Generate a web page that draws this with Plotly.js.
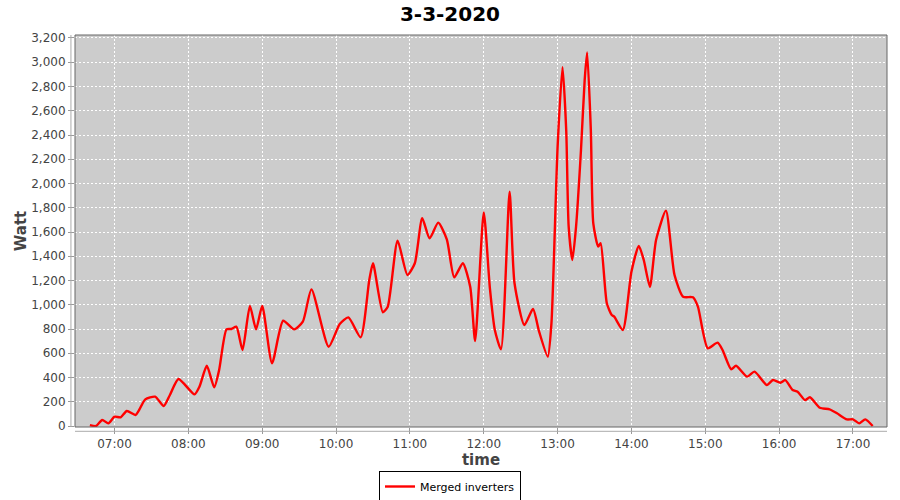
<!DOCTYPE html>
<html>
<head>
<meta charset="utf-8">
<script src="https://cdn.plot.ly/plotly-3.0.1.min.js"></script>
<style>html,body{margin:0;padding:0;background:#fff;}#chart{width:900px;height:500px;}</style>
</head>
<body>
<div id="chart"></div>
<script>
const chartTitle = "3-3-2020";
const seriesName = "Merged inverters";
const times = ["06:40","06:45","06:50","06:55","07:00","07:05","07:10","07:17","07:20","07:25","07:33","07:40","07:45","07:52","08:05","08:09","08:15","08:21","08:25","08:31","08:35","08:39","08:44","08:50","08:55","09:00","09:08","09:17","09:26","09:33","09:40","09:54","10:03","10:10","10:20","10:27","10:30","10:38","10:42","10:50","10:58","11:04","11:10","11:16","11:23","11:30","11:36","11:43","11:49","11:53","12:00","12:05","12:09","12:14","12:21","12:25","12:33","12:40","12:45","12:52","12:55","13:00","13:04","13:07","13:09","13:12","13:15","13:19","13:22","13:24","13:27","13:29","13:33","13:35","13:40","13:44","13:46","13:53","14:00","14:06","14:10","14:15","14:20","14:28","14:35","14:42","14:50","14:54","15:02","15:10","15:14","15:21","15:25","15:34","15:40","15:50","15:55","16:01","16:05","16:11","16:15","16:21","16:25","16:33","16:41","16:47","16:55","17:00","17:05","17:10","17:16"];
const watts = [8,0,50,22,77,72,124,91,132,220,242,165,256,388,261,324,497,319,462,797,800,819,627,990,797,990,517,868,797,860,1127,654,841,896,731,1204,1342,938,984,1528,1245,1342,1713,1548,1677,1540,1226,1342,1149,701,1762,1136,792,632,1932,1177,833,965,778,572,847,2303,2960,2441,1644,1369,1644,2276,2853,3080,2441,1671,1479,1507,1012,915,902,792,1273,1485,1369,1149,1534,1776,1245,1066,1061,984,641,687,627,468,497,407,448,338,379,357,379,297,283,214,237,151,138,105,55,55,22,55,0];
const yTicks = [0,200,400,600,800,1000,1200,1400,1600,1800,2000,2200,2400,2600,2800,3000,3200];
const day = "2020-03-03";

const xs = times.map(t => day + " " + t + ":00");

const trace = {
  x: xs, y: watts, type: "scatter", mode: "lines", name: seriesName,
  line: {color: "#ff0000", width: 2.4, shape: "spline", smoothing: 0.6},
  showlegend: true
};

const font = {family: "DejaVu Sans, sans-serif", size: 12, color: "#444444"};
const layout = {
  width: 900, height: 500,
  margin: {l: 75, r: 13, t: 35, b: 73, autoexpand: false},
  paper_bgcolor: "#ffffff",
  plot_bgcolor: "#cccccc",
  font: font,
  title: {text: chartTitle, font: {family: "DejaVu Sans, sans-serif", size: 20, color: "#000000", weight: "bold"},
          xref: "container", x: 0.5, xanchor: "center", yref: "container", y: 0.972, yanchor: "middle"},
  xaxis: {
    type: "date",
    range: [day + " 06:27:54", day + " 17:27:38"],
    tick0: day + " 07:00:00", dtick: 3600000, tickformat: "%H:%M", tickangle: 0,
    showgrid: true, gridcolor: "#ffffff", griddash: "2px,2px", gridwidth: 1,
    zeroline: false, showline: false,
    ticks: "outside", ticklen: 6, tickcolor: "#999999",
    tickfont: {family: "DejaVu Sans, sans-serif", size: 12, color: "#444444"},
    title: {text: "time", font: {family: "DejaVu Sans, sans-serif", size: 15, color: "#444444", weight: "bold"}, standoff: 4},
    automargin: false, fixedrange: true
  },
  yaxis: {
    range: [-8.2, 3224.7],
    tickvals: yTicks, tickformat: ",d",
    showgrid: true, gridcolor: "#ffffff", griddash: "2px,2px", gridwidth: 1,
    zeroline: false, showline: false,
    ticks: "outside", ticklen: 6, tickcolor: "#999999",
    tickfont: {family: "DejaVu Sans, sans-serif", size: 12, color: "#444444"},
    title: {text: "Watt", font: {family: "DejaVu Sans, sans-serif", size: 15, color: "#444444", weight: "bold"}, standoff: 0},
    automargin: false, fixedrange: true
  },
  legend: {
    orientation: "h", xref: "container", x: 0.5, xanchor: "center",
    yref: "container", y: 0.058, yanchor: "top",
    bgcolor: "#ffffff", bordercolor: "#000000", borderwidth: 1,
    font: {family: "DejaVu Sans, sans-serif", size: 11, color: "#000000"},
    itemwidth: 30, tracegroupgap: 0
  },
  shapes: [
    {type: "rect", xref: "x domain", yref: "y domain", x0: 0, x1: 1, y0: 0, y1: 1,
     line: {color: "#666666", width: 1}, fillcolor: "rgba(0,0,0,0)", layer: "above"},
    {type: "line", xref: "paper", yref: "paper", x0: -0.005, x1: -0.005, y0: 0, y1: 1,
     line: {color: "#aaaaaa", width: 1}},
    {type: "line", xref: "paper", yref: "paper", x0: 0, x1: 1, y0: -0.011, y1: -0.011,
     line: {color: "#aaaaaa", width: 1}}
  ]
};

Plotly.newPlot("chart", [trace], layout, {displayModeBar: false, staticPlot: true});
</script>
</body>
</html>
